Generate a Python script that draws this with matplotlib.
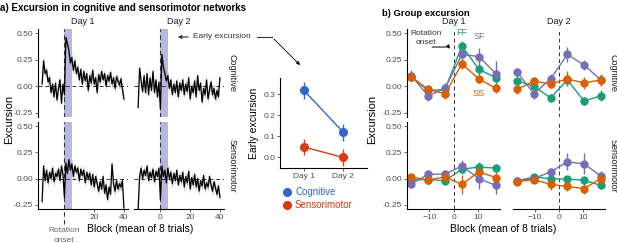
import numpy as np
import matplotlib
matplotlib.use("Agg")
import matplotlib.pyplot as plt

plt.rcParams["font.family"] = ["Liberation Sans", "DejaVu Sans"]

W, H = 617, 243

# ---- panel a: time courses (blocks -15..40) ----
blocks = np.arange(-15, 41)
day1_cog = [0.02, 0.24, 0.12, 0.15, 0.04, 0.08, -0.06, 0.02, -0.10, 0.03, -0.13, -0.02, 0.06, -0.16, 0.02, -0.08,
            0.46, 0.40, 0.34, 0.22, 0.27, 0.15, 0.24, 0.12, 0.18, 0.06, 0.16, 0.02, 0.14, 0.05, 0.12, -0.04,
            0.10, 0.03, 0.15, 0.02, 0.08, -0.06, 0.11, 0.04, 0.14, 0.06, 0.12, 0.00, 0.10, 0.05, 0.13, 0.02,
            0.08, -0.02, 0.09, 0.05, 0.01, 0.07, -0.03, -0.12]
day2_cog = [-0.20, 0.17, 0.05, -0.05, 0.10, -0.06, 0.12, -0.08, 0.08, -0.04, 0.14, -0.06, 0.06, -0.10, 0.04, -0.22,
            0.30, 0.18, 0.12, 0.05, 0.10, -0.02, 0.06, -0.08, 0.02, -0.06, 0.05, -0.10, 0.03, -0.04, 0.06, -0.08,
            0.02, -0.05, 0.08, -0.12, 0.00, -0.06, 0.05, -0.10, 0.10, -0.04, 0.03, -0.15, -0.02, -0.08, 0.06, -0.12,
            -0.03, 0.04, -0.08, -0.02, -0.12, -0.04, -0.10, 0.08]
day1_sen = [-0.22, 0.12, -0.02, 0.08, -0.04, 0.06, 0.00, 0.10, -0.03, 0.05, 0.02, 0.09, -0.02, 0.12, 0.04, -0.18,
            0.15, 0.05, 0.18, 0.08, 0.14, 0.02, 0.12, 0.06, 0.10, -0.02, 0.09, 0.03, 0.08, -0.04, 0.06, 0.00,
            0.05, -0.06, 0.04, -0.08, 0.02, -0.05, -0.12, -0.03, -0.10, 0.02, -0.14, -0.06, -0.20, -0.08, -0.15, 0.14,
            -0.05, -0.12, -0.02, -0.10, -0.05, -0.08, -0.02, -0.28]
day2_sen = [-0.30, 0.02, 0.10, 0.00, 0.08, 0.03, 0.12, -0.02, 0.06, 0.01, 0.09, -0.03, 0.07, 0.02, 0.10, -0.20,
            0.12, 0.02, 0.08, -0.04, 0.10, 0.00, 0.06, -0.05, 0.05, -0.02, 0.08, -0.06, 0.03, -0.03, 0.06, -0.08,
            0.02, -0.04, 0.07, -0.10, 0.01, -0.06, 0.04, -0.08, 0.00, -0.12, -0.02, -0.07, 0.03, -0.10, -0.04, -0.08,
            0.02, -0.06, -0.12, -0.03, -0.09, -0.15, -0.07, -0.18]
trace_se = 0.04

# ---- inset: early excursion ----
days = [1, 2]
day_labels = ["Day 1", "Day 2"]
early_cog = [0.32, 0.12]
early_cog_err = [0.04, 0.04]
early_sen = [0.05, 0.00]
early_sen_err = [0.04, 0.04]

# ---- panel b: group excursion ----
group_x = [-17.5, -10.5, -3.5, 3.5, 10.5, 17.5]
groups = ["FF", "SF", "SS"]
cog_d1 = {"FF": [0.09, -0.04, -0.03, 0.38, 0.16, 0.08],
          "SF": [0.10, -0.09, -0.02, 0.30, 0.28, 0.12],
          "SS": [0.09, -0.03, -0.07, 0.21, 0.07, -0.02]}
cog_d1_err = {"FF": [0.04, 0.03, 0.04, 0.05, 0.05, 0.05],
              "SF": [0.05, 0.05, 0.05, 0.06, 0.08, 0.12],
              "SS": [0.04, 0.04, 0.05, 0.05, 0.04, 0.04]}
cog_d2 = {"FF": [0.05, 0.00, -0.11, 0.06, -0.14, -0.09],
          "SF": [0.13, -0.07, 0.07, 0.30, 0.20, 0.06],
          "SS": [-0.03, 0.05, 0.02, 0.07, 0.03, 0.06]}
cog_d2_err = {"FF": [0.04, 0.04, 0.04, 0.05, 0.04, 0.05],
              "SF": [0.04, 0.05, 0.05, 0.07, 0.05, 0.05],
              "SS": [0.04, 0.04, 0.04, 0.07, 0.06, 0.06]}
sen_d1 = {"FF": [-0.01, -0.01, -0.02, 0.09, 0.11, 0.10],
          "SF": [-0.05, 0.04, 0.045, 0.12, 0.00, -0.065],
          "SS": [0.015, -0.012, 0.015, -0.055, 0.065, 0.01]}
sen_d1_err = {"FF": [0.03, 0.03, 0.03, 0.05, 0.05, 0.04],
              "SF": [0.04, 0.04, 0.04, 0.06, 0.10, 0.08],
              "SS": [0.03, 0.03, 0.04, 0.09, 0.05, 0.05]}
sen_d2 = {"FF": [-0.02, 0.015, 0.00, -0.005, -0.015, -0.065],
          "SF": [-0.02, 0.00, 0.065, 0.16, 0.14, 0.025],
          "SS": [-0.03, -0.01, -0.055, -0.075, -0.095, 0.00]}
sen_d2_err = {"FF": [0.03, 0.03, 0.03, 0.03, 0.03, 0.03],
              "SF": [0.03, 0.03, 0.04, 0.08, 0.10, 0.05],
              "SS": [0.03, 0.03, 0.05, 0.04, 0.05, 0.04]}

group_colors = {"FF": "#1b9e77", "SF": "#7570b3", "SS": "#d95f02"}
cog_color = "#3366cc"
sen_color = "#dc3912"
tick_gray = "#4d4d4d"


def px(l, t, r, b):
    return [l / W, 1 - b / H, (r - l) / W, (b - t) / H]


def style(ax, left, bottom):
    for s in ax.spines.values():
        s.set_visible(False)
    ax.spines["left"].set_visible(left)
    ax.spines["bottom"].set_visible(bottom)
    for s in ("left", "bottom"):
        ax.spines[s].set_linewidth(0.8)
    ax.tick_params(labelsize=6, colors=tick_gray, length=2, width=0.6, pad=1.5)
    if not left:
        ax.tick_params(axis="y", left=False, labelleft=False)
    if not bottom:
        ax.tick_params(axis="x", bottom=False, labelbottom=False)
    ax.patch.set_alpha(0)


fig = plt.figure(figsize=(W / 100, H / 100), dpi=100)

# ---------- panel a ----------
rows = [(29, 117), (122, 209)]
a_cols = [(38, 128), (134, 224)]
a_data = [[day1_cog, day2_cog], [day1_sen, day2_sen]]
for r, (t, b) in enumerate(rows):
    for c, (l, rr) in enumerate(a_cols):
        ax = fig.add_axes(px(l, t, rr, b))
        y = np.array(a_data[r][c])
        ax.axvspan(0, 5, color="#b7b7e0", lw=0)
        ax.axhline(0, color="#333333", ls=(0, (4, 3)), lw=0.7)
        ax.axvline(0, color="#333333", ls=(0, (4, 3)), lw=0.8)
        ax.fill_between(blocks, y - trace_se, y + trace_se, color="#9a9a9a", lw=0, alpha=0.7)
        ax.plot(blocks, y, color="black", lw=0.9)
        ax.set_xlim(-17.75, 42.75)
        ax.set_ylim(-0.29, 0.54)
        ax.set_yticks([-0.25, 0, 0.25, 0.5])
        ax.set_yticklabels(["-0.25", "0.00", "0.25", "0.50"])
        if c == 0:
            ax.set_xticks([20, 40])
        else:
            ax.set_xticks([0, 20, 40])
        style(ax, c == 0, r == 1)
        if r == 0:
            ax.text(0.5, 1.03, f"Day {c + 1}", transform=ax.transAxes, ha="center",
                    va="bottom", fontsize=6.5, color="#1a1a1a")
        if c == 1:
            ax.text(1.04, 0.5, ["Cognitive", "Sensorimotor"][r], transform=ax.transAxes,
                    rotation=-90, ha="left", va="center", fontsize=6.5, color="#1a1a1a")
        if r == 1 and c == 0:
            ax.axvline(0, ymin=-0.17, ymax=0, color="#333333", ls=(0, (4, 3)), lw=0.8, clip_on=False)

fig.text(0 / W, 1 - 8 / H, "a) Excursion in cognitive and sensorimotor networks", fontsize=7,
         fontweight="bold", va="center", ha="left")
fig.text(9 / W, 1 - 119 / H, "Excursion", rotation=90, fontsize=8, ha="center", va="center")
fig.text(140 / W, 1 - 229 / H, "Block (mean of 8 trials)", fontsize=7.5, ha="center", va="center")
fig.text(64 / W, 1 - 230 / H, "Rotation", fontsize=6, color="#666666", ha="center", va="center")
fig.text(64 / W, 1 - 240 / H, "onset", fontsize=6, color="#666666", ha="center", va="center")

# Early excursion annotation
fig.text(193 / W, 1 - 37 / H, "Early excursion", fontsize=6, color="#333333", ha="left", va="center")
fig.add_artist(matplotlib.patches.FancyArrowPatch((191 / W, 1 - 37 / H), (175 / W, 1 - 37 / H),
               transform=fig.transFigure, arrowstyle="-|>", mutation_scale=5, lw=0.8, color="#333333"))
fig.add_artist(matplotlib.lines.Line2D([257 / W, 272 / W], [1 - 37 / H, 1 - 37 / H],
               transform=fig.transFigure, lw=0.8, color="#333333"))
fig.add_artist(matplotlib.patches.FancyArrowPatch((272 / W, 1 - 37 / H), (302 / W, 1 - 67 / H),
               transform=fig.transFigure, arrowstyle="-|>", mutation_scale=5, lw=0.6, color="black"))

# inset
ax = fig.add_axes(px(280, 78, 367, 168))
for vals, err, col in [(early_cog, early_cog_err, cog_color), (early_sen, early_sen_err, sen_color)]:
    ax.errorbar(days, vals, yerr=err, color=col, marker="o", ms=5.5, lw=1.0, elinewidth=1.0, capsize=0)
ax.set_xlim(0.4, 2.6)
ax.set_ylim(-0.05, 0.378)
ax.set_xticks(days)
ax.set_xticklabels(day_labels)
ax.set_yticks([0, 0.1, 0.2, 0.3])
ax.set_yticklabels(["0.0", "0.1", "0.2", "0.3"])
style(ax, True, True)
ax.set_ylabel("Early excursion", fontsize=7.5, labelpad=3)
for i, (name, col) in enumerate([("Cognitive", cog_color), ("Sensorimotor", sen_color)]):
    yy = 1 - (192 + 13 * i) / H
    fig.add_artist(matplotlib.lines.Line2D([287 / W], [yy], marker="o", ms=5.5, color=col,
                   transform=fig.transFigure))
    fig.text(295 / W, yy, name, color=col, fontsize=7, va="center", ha="left")

# ---------- panel b ----------
b_cols = [(407, 500), (513, 605)]
b_data = [[(cog_d1, cog_d1_err), (cog_d2, cog_d2_err)], [(sen_d1, sen_d1_err), (sen_d2, sen_d2_err)]]
for r, (t, b) in enumerate(rows):
    for c, (l, rr) in enumerate(b_cols):
        ax = fig.add_axes(px(l, t, rr, b))
        ax.axvline(0, color="#333333", ls=(0, (4, 3)), lw=0.7)
        vals, errs = b_data[r][c]
        for g in groups:
            ax.errorbar(group_x, vals[g], yerr=errs[g], color=group_colors[g], marker="o", ms=5,
                        lw=1.0, elinewidth=1.0, capsize=0)
        ax.set_xlim(-19.25, 19.25)
        ax.set_ylim(-0.29, 0.54)
        ax.set_yticks([-0.25, 0, 0.25, 0.5])
        ax.set_yticklabels(["-0.25", "0.00", "0.25", "0.50"])
        ax.set_xticks([-10, 0, 10])
        style(ax, c == 0, r == 1)
        if r == 0:
            ax.text(0.5, 1.03, f"Day {c + 1}", transform=ax.transAxes, ha="center",
                    va="bottom", fontsize=6.5, color="#1a1a1a")
        if c == 1:
            ax.text(1.04, 0.5, ["Cognitive", "Sensorimotor"][r], transform=ax.transAxes,
                    rotation=-90, ha="left", va="center", fontsize=6.5, color="#1a1a1a")
        if r == 0 and c == 0:
            ax.text(3.5, 0.51, "FF", color=group_colors["FF"], fontsize=6.5, ha="center", va="center")
            ax.text(10.5, 0.47, "SF", color=group_colors["SF"], fontsize=6.5, ha="center", va="center")
            ax.text(10.5, -0.07, "SS", color=group_colors["SS"], fontsize=6.5, ha="center", va="center")
            ax.text(-11.5, 0.50, "Rotation", fontsize=6, color="#333333", ha="center", va="center")
            ax.text(-11.5, 0.41, "onset", fontsize=6, color="#333333", ha="center", va="center")
            ax.annotate("", xy=(-1, 0.33), xytext=(-10, 0.37),
                        arrowprops=dict(arrowstyle="-|>", mutation_scale=5, lw=0.7, color="black",
                                        connectionstyle="angle,angleA=0,angleB=-60,rad=0"))

fig.text(382 / W, 1 - 13 / H, "b) Group excursion", fontsize=6.8, fontweight="bold", va="center", ha="left")
fig.text(372 / W, 1 - 119 / H, "Excursion", rotation=90, fontsize=8, ha="center", va="center")
fig.text(503 / W, 1 - 229 / H, "Block (mean of 8 trials)", fontsize=7.5, ha="center", va="center")

fig.savefig("out.png", dpi=100)
